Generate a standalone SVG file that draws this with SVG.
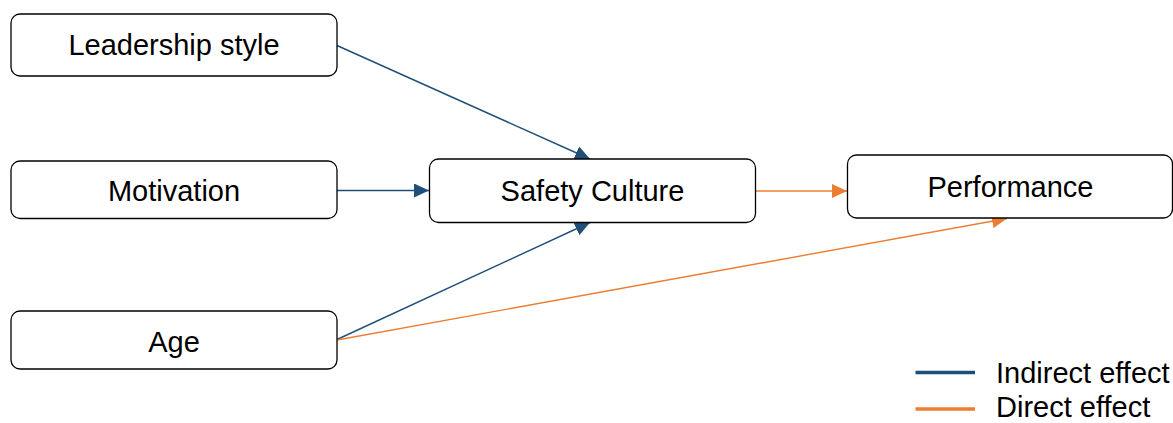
<svg xmlns="http://www.w3.org/2000/svg" width="1173" height="423" viewBox="0 0 1173 423">
  <style>
    .box { fill: #ffffff; stroke: #000000; stroke-width: 1.3; }
    .lbl { font-family: "Liberation Sans", Arial, sans-serif; font-size: 29px; fill: #000000; text-anchor: middle; }
    .leg { font-family: "Liberation Sans", Arial, sans-serif; font-size: 29px; fill: #000000; }
    .ind { stroke: #1F4E79; stroke-width: 1.4; fill: none; }
    .dir { stroke: #ED7D31; stroke-width: 1.4; fill: none; }
  </style>
  <defs>
    <marker id="arrBlue" markerUnits="userSpaceOnUse" markerWidth="16" markerHeight="15" refX="15" refY="7" orient="auto">
      <path d="M0,0 L15,7 L0,14 z" fill="#1F4E79"/>
    </marker>
    <marker id="arrOrange" markerUnits="userSpaceOnUse" markerWidth="16" markerHeight="15" refX="15" refY="7" orient="auto">
      <path d="M0,0 L15,7 L0,14 z" fill="#ED7D31"/>
    </marker>
  </defs>

  <rect width="1173" height="423" fill="#ffffff"/>

  <!-- connectors -->
  <g id="connectors">
    <line class="ind" x1="337" y1="45.5" x2="590" y2="159" marker-end="url(#arrBlue)"/>
    <line class="ind" x1="337" y1="190.5" x2="429" y2="190.5" marker-end="url(#arrBlue)"/>
    <line class="ind" x1="337" y1="339.5" x2="590" y2="222.5" marker-end="url(#arrBlue)"/>
    <line class="dir" x1="755" y1="191" x2="847" y2="191" marker-end="url(#arrOrange)"/>
    <line class="dir" x1="337" y1="340" x2="1007" y2="218.5" marker-end="url(#arrOrange)"/>
  </g>

  <!-- nodes -->
  <g id="leadership">
    <rect class="box" x="11" y="14" width="326" height="62" rx="9"/>
    <text class="lbl" x="174" y="55">Leadership style</text>
  </g>
  <g id="motivation">
    <rect class="box" x="11" y="161" width="326" height="57.5" rx="9"/>
    <text class="lbl" x="174" y="201">Motivation</text>
  </g>
  <g id="age">
    <rect class="box" x="11" y="311" width="326" height="58" rx="9"/>
    <text class="lbl" x="174" y="351.5">Age</text>
  </g>
  <g id="safety-culture">
    <rect class="box" x="429.5" y="159" width="326" height="63.5" rx="9"/>
    <text class="lbl" x="592.5" y="200.5">Safety Culture</text>
  </g>
  <g id="performance">
    <rect class="box" x="847.5" y="155" width="325" height="63" rx="9"/>
    <text class="lbl" x="1010.5" y="196.5">Performance</text>
  </g>

  <!-- legend -->
  <g id="legend">
    <line x1="915.5" y1="372.5" x2="975" y2="372.5" stroke="#1F4E79" stroke-width="3.5"/>
    <text class="leg" x="996" y="382.5">Indirect effect</text>
    <line x1="915.5" y1="409" x2="975" y2="409" stroke="#ED7D31" stroke-width="3.5"/>
    <text class="leg" x="996" y="416.5">Direct effect</text>
  </g>
</svg>
